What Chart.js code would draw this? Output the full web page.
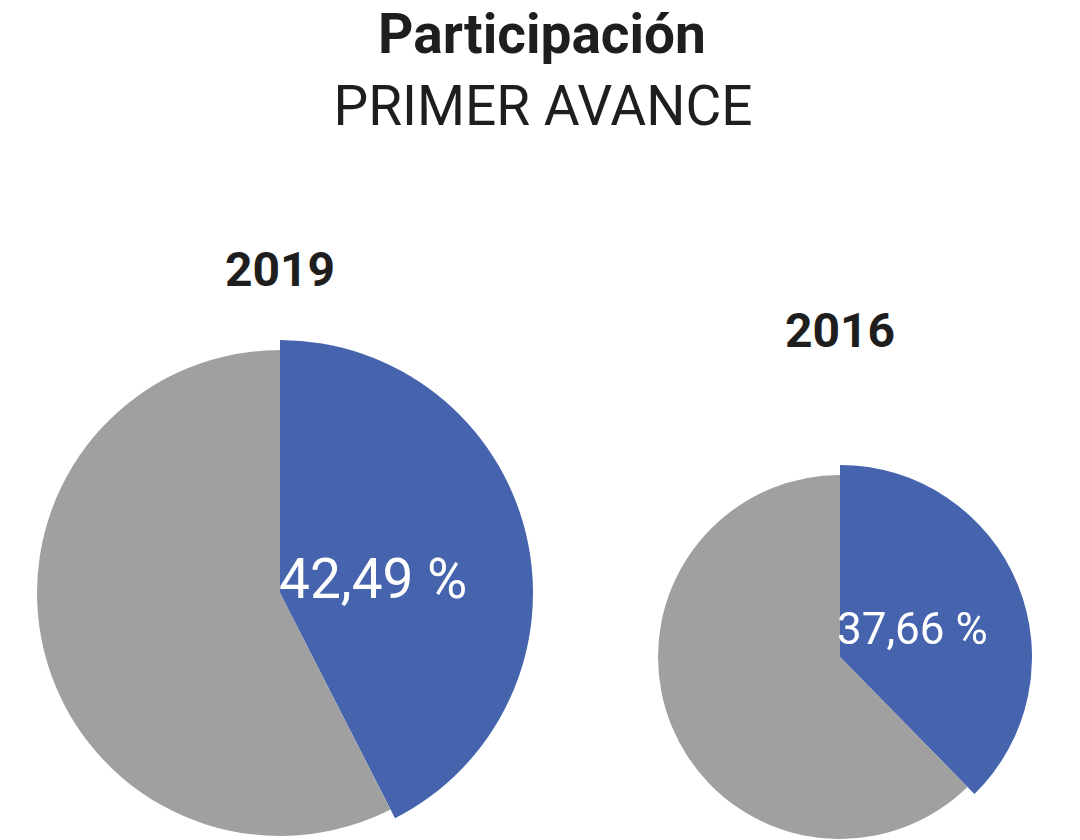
<!DOCTYPE html>
<html>
<head>
<meta charset="utf-8">
<script src="https://cdn.jsdelivr.net/npm/chart.js@4.4.1/dist/chart.umd.min.js"></script>
<style>
  html, body { margin:0; padding:0; background:#fff; width:1080px; height:840px; overflow:hidden; font-family: Roboto, "Noto Sans", sans-serif; }
  .txt { position:absolute; color:#1e1e1e; text-align:center; white-space:nowrap; line-height:1; }
  #title { left:0; width:1084px; top:7px; font-size:55px; font-weight:700; }
  #subtitle { left:0; width:1086px; top:79px; font-size:55px; font-weight:400; }
  .year { font-size:48px; font-weight:700; width:200px; }
  .box { position:absolute; }
</style>
</head>
<body>
<div id="title" class="txt">Participación</div>
<div id="subtitle" class="txt">PRIMER AVANCE</div>
<div id="y0" class="txt year" style="left:180px; top:246px;"></div>
<div id="y1" class="txt year" style="left:740px; top:307px;"></div>
<div class="box" style="left:27px; top:340px; width:506px; height:506px;"><canvas id="c0"></canvas></div>
<div class="box" style="left:648px; top:465px; width:384px; height:384px;"><canvas id="c1"></canvas></div>
<script>
// ---- data ----
const years = ['2019', '2016'];
const categories = ['Participación', 'Abstención'];
const participation = [42.49, 37.66];
const abstention = [57.51, 62.34];
const valueLabels = ['42,49 %', '37,66 %'];

// ---- styles ----
const colors = ['#4664ad', '#a0a0a0'];

const bumpPlugin = {
  id: 'bump',
  afterDatasetsUpdate(chart, args, opts) {
    const arc = chart.getDatasetMeta(0).data[0];
    if (arc) arc.outerRadius += opts.extra;
  }
};
const labelPlugin = {
  id: 'valLabel',
  afterDatasetsDraw(chart, args, opts) {
    const arc = chart.getDatasetMeta(0).data[0];
    const ctx = chart.ctx;
    ctx.save();
    ctx.fillStyle = '#ffffff';
    ctx.font = '400 ' + opts.size + 'px Roboto';
    ctx.textAlign = 'left';
    ctx.textBaseline = 'middle';
    ctx.fillText(opts.text, arc.x + opts.dx, arc.y + opts.dy);
    ctx.restore();
  }
};

const cfg = [
  { extra: 10, size: 55, dx: -1, dy: -9 },
  { extra: 10, size: 44, dx: -3, dy: -24 }
];

years.forEach((yr, i) => {
  document.getElementById('y' + i).textContent = yr;
  new Chart(document.getElementById('c' + i), {
    type: 'pie',
    data: {
      labels: categories,
      datasets: [{
        data: [participation[i], abstention[i]],
        backgroundColor: colors,
        borderWidth: 0
      }]
    },
    options: {
      responsive: true,
      maintainAspectRatio: false,
      animation: false,
      layout: { padding: cfg[i].extra },
      plugins: {
        legend: { display: false },
        tooltip: { enabled: false },
        bump: { extra: cfg[i].extra },
        valLabel: { text: valueLabels[i], size: cfg[i].size, dx: cfg[i].dx, dy: cfg[i].dy }
      }
    },
    plugins: [bumpPlugin, labelPlugin]
  });
});
</script>
</body>
</html>
